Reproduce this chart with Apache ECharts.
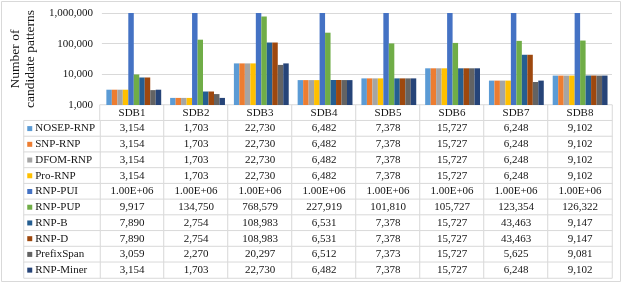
<!DOCTYPE html>
<html><head><meta charset="utf-8">
<script src="https://cdn.jsdelivr.net/npm/echarts@6/dist/echarts.min.js"></script>
<style>html,body{margin:0;padding:0;background:#fff}#c{width:623px;height:284px}</style>
</head><body><div id="c"></div>
<script>
const categories = ['SDB1','SDB2','SDB3','SDB4','SDB5','SDB6','SDB7','SDB8'];
const seriesNames = ['NOSEP-RNP','SNP-RNP','DFOM-RNP','Pro-RNP','RNP-PUI','RNP-PUP','RNP-B','RNP-D','PrefixSpan','RNP-Miner'];
const nosepRnp  = [3154, 1703, 22730, 6482, 7378, 15727, 6248, 9102];
const snpRnp    = [3154, 1703, 22730, 6482, 7378, 15727, 6248, 9102];
const dfomRnp   = [3154, 1703, 22730, 6482, 7378, 15727, 6248, 9102];
const proRnp    = [3154, 1703, 22730, 6482, 7378, 15727, 6248, 9102];
const rnpPui    = [1000000, 1000000, 1000000, 1000000, 1000000, 1000000, 1000000, 1000000];
const rnpPup    = [9917, 134750, 768579, 227919, 101810, 105727, 123354, 126322];
const rnpB      = [7890, 2754, 108983, 6531, 7378, 15727, 43463, 9147];
const rnpD      = [7890, 2754, 108983, 6531, 7378, 15727, 43463, 9147];
const prefixSpan= [3059, 2270, 20297, 6512, 7373, 15727, 5625, 9081];
const rnpMiner  = [3154, 1703, 22730, 6482, 7378, 15727, 6248, 9102];
const yTicks = [1000, 10000, 100000, 1000000];

const allData = [nosepRnp, snpRnp, dfomRnp, proRnp, rnpPui, rnpPup, rnpB, rnpD, prefixSpan, rnpMiner];
const colors = ['#5B9BD5','#ED7D31','#A5A5A5','#FFC000','#4472C4','#70AD47','#255E91','#9E480E','#636363','#264478'];
const FONT = "'Liberation Serif','Times New Roman',serif";
const TXT = '#141414';
const LINE = '#d9d9d9';

function fmt(v){
  if (v >= 1000000) {
    let s = v.toExponential(2).toUpperCase();
    return s.replace(/E\+(\d)$/, 'E+0$1');
  }
  return v.toLocaleString('en-US');
}

const series = [];
allData.forEach((d, i) => {
  series.push({
    name: seriesNames[i], type: 'bar', xAxisIndex: 0, yAxisIndex: 0,
    data: d, barGap: '0%', barCategoryGap: '14%',
    itemStyle: {color: colors[i]}, silent: true
  });
});

// table grid: header row + 10 rows
const tableRows = ['hdr'].concat(seriesNames);
const tableData = [];
categories.forEach((c, x) => {
  tableData.push({value: [x, 0, 1], label: {formatter: c}});
  allData.forEach((d, i) => {
    tableData.push({value: [x, i + 1, 1], label: {formatter: fmt(d[x])}});
  });
});
series.push({
  type: 'heatmap', xAxisIndex: 1, yAxisIndex: 1, data: tableData, silent: true,
  itemStyle: {color: '#fff', borderColor: LINE, borderWidth: 1},
  label: {show: true, fontFamily: FONT, fontSize: 11, color: TXT}
});

// legend column
const rich = {t: {fontFamily: FONT, fontSize: 11, color: TXT, padding: [0,0,0,3]}};
colors.forEach((c, i) => { rich['c' + i] = {width: 5, height: 5, backgroundColor: c}; });
const legendData = seriesNames.map((n, i) => ({
  value: [0, i, 1], label: {formatter: '{c' + i + '|}{t|' + n + '}'}
}));
series.push({
  type: 'heatmap', xAxisIndex: 2, yAxisIndex: 2, data: legendData, silent: true,
  itemStyle: {color: '#fff', borderColor: LINE, borderWidth: 1},
  label: {show: true, position: 'insideLeft', distance: 4, rich: rich}
});

const rowH = 173 / 11;
const chart = echarts.init(document.getElementById('c'));
chart.setOption({
  animation: false,
  textStyle: {fontFamily: FONT},
  visualMap: [{show: false, seriesIndex: [10, 11], min: 0, max: 1, inRange: {color: ['#ffffff', '#ffffff']}}],
  grid: [
    {left: 100, width: 512, top: 13, height: 92},
    {left: 100, width: 512, top: 105, height: 173},
    {left: 24, width: 76, top: 105 + rowH, height: 173 - rowH}
  ],
  xAxis: [
    {type: 'category', gridIndex: 0, data: categories,
     axisLine: {show: true, lineStyle: {color: LINE}}, axisTick: {show: false}, axisLabel: {show: false}},
    {type: 'category', gridIndex: 1, data: categories, show: false},
    {type: 'category', gridIndex: 2, data: ['n'], show: false}
  ],
  yAxis: [
    {type: 'log', gridIndex: 0, logBase: 10, min: yTicks[0], max: yTicks[yTicks.length - 1],
     axisLine: {show: false}, axisTick: {show: false},
     splitLine: {show: true, lineStyle: {color: LINE}},
     axisLabel: {fontFamily: FONT, fontSize: 11, color: TXT, margin: 9,
       formatter: v => Number(v).toLocaleString('en-US')},
     name: 'Number of\ncandidate patterns', nameLocation: 'middle', nameRotate: 90, nameGap: 59,
     nameTextStyle: {fontFamily: FONT, fontSize: 13.5, color: TXT, lineHeight: 15}},
    {type: 'category', gridIndex: 1, data: tableRows, inverse: true, show: false},
    {type: 'category', gridIndex: 2, data: seriesNames, inverse: true, show: false}
  ],
  graphic: [{type: 'rect', shape: {x: 1.5, y: 1.5, width: 619, height: 280},
    style: {fill: 'none', stroke: LINE, lineWidth: 1}, silent: true, z: -1}],
  series: series
});
</script></body></html>
